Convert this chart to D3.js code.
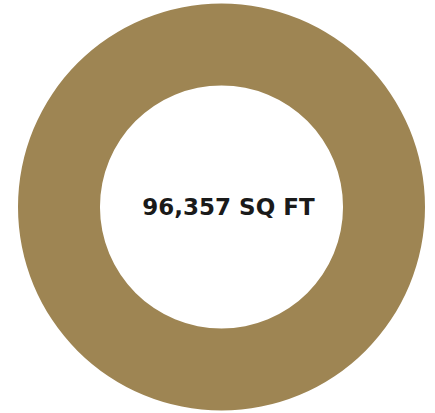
<!DOCTYPE html>
<html>
<head>
<meta charset="utf-8">
<script src="https://cdn.jsdelivr.net/npm/d3@7"></script>
<style>
  html, body { margin: 0; padding: 0; background: #fff; }
  svg { display: block; }
</style>
</head>
<body>
<svg id="chart" width="435" height="413"></svg>
<script>
  const labels = ["Total area"];
  const values = [96357];
  const colors = ["#9e8553"];
  const centerLabel = "96,357 SQ FT";

  const svg = d3.select("#chart");
  const cx = 221.5;
  const cy = 207;
  const outerRadius = 203.5;
  const innerRadius = 121.5;

  const pie = d3.pie().sort(null).value((d) => d.value);
  const arc = d3.arc().innerRadius(innerRadius).outerRadius(outerRadius);

  const data = labels.map((label, i) => ({ label, value: values[i], color: colors[i] }));

  const g = svg.append("g").attr("transform", `translate(${cx},${cy})`);

  g.selectAll("path")
    .data(pie(data))
    .join("path")
    .attr("d", arc)
    .attr("fill", (d) => d.data.color);

  // baseline sits ~8px below the ring's centre, block shifted a little right
  g.append("text")
    .attr("x", 7)
    .attr("y", 8)
    .attr("text-anchor", "middle")
    .attr("font-family", "'DejaVu Sans', sans-serif")
    .attr("font-weight", 700)
    .attr("font-size", 23)
    .attr("fill", "#1a1a1a")
    .text(centerLabel);
</script>
</body>
</html>
